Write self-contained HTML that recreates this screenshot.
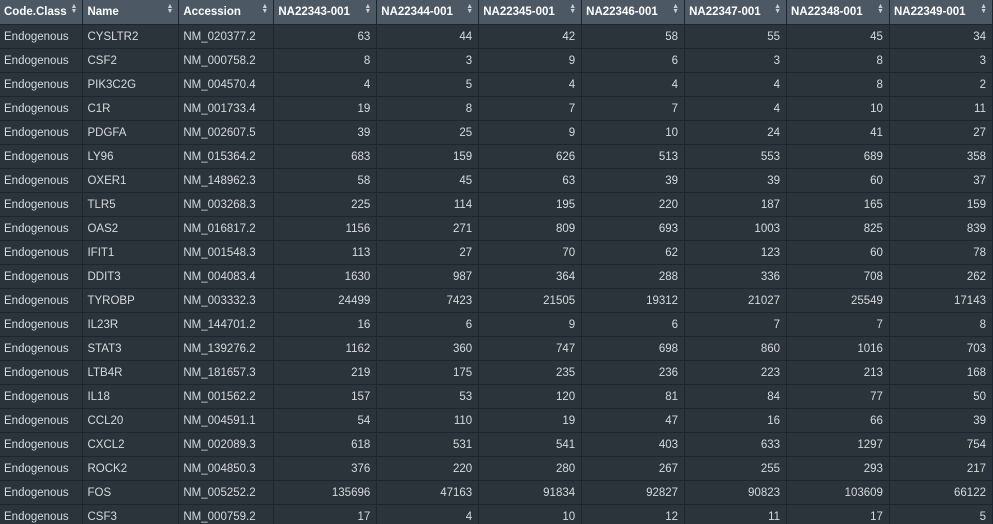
<!DOCTYPE html>
<html><head><meta charset="utf-8"><style>
html,body{margin:0;padding:0;background:#2b343b;width:993px;height:524px;overflow:hidden}
table{border-collapse:collapse;table-layout:fixed;font-family:"Liberation Sans",sans-serif;font-size:11.5px;color:#d6dadd}
th{background:#4c5965;color:#fff;font-weight:bold;text-align:left;height:24px;padding:0 4px;border-right:1px solid #1c2630;border-bottom:1px solid #1c2630;position:relative;white-space:nowrap;overflow:hidden}
th .s{position:absolute;right:5px;top:4px;font-size:7px;line-height:5px;color:#c8ced3}
td{height:23px;padding:0 4px;border-right:1px solid #1c2630;border-bottom:1px solid #1c2630;background:#2b343b;white-space:nowrap}
td.n{text-align:right;padding-right:6px}
</style></head><body>
<table id="t">
<colgroup><col style="width:83px"><col style="width:96px"><col style="width:95px"><col style="width:103px"><col style="width:102px"><col style="width:103px"><col style="width:103px"><col style="width:102px"><col style="width:103px"><col style="width:103px"></colgroup>
<thead><tr id="h"></tr></thead>
<tbody id="b"></tbody>
</table>
<script>
const headers=["Code.Class","Name","Accession","NA22343-001","NA22344-001","NA22345-001","NA22346-001","NA22347-001","NA22348-001","NA22349-001"];
const names=["CYSLTR2","CSF2","PIK3C2G","C1R","PDGFA","LY96","OXER1","TLR5","OAS2","IFIT1","DDIT3","TYROBP","IL23R","STAT3","LTB4R","IL18","CCL20","CXCL2","ROCK2","FOS","CSF3"];
const accessions=["NM_020377.2","NM_000758.2","NM_004570.4","NM_001733.4","NM_002607.5","NM_015364.2","NM_148962.3","NM_003268.3","NM_016817.2","NM_001548.3","NM_004083.4","NM_003332.3","NM_144701.2","NM_139276.2","NM_181657.3","NM_001562.2","NM_004591.1","NM_002089.3","NM_004850.3","NM_005252.2","NM_000759.2"];
const values=[
[63,44,42,58,55,45,34],[8,3,9,6,3,8,3],[4,5,4,4,4,8,2],[19,8,7,7,4,10,11],[39,25,9,10,24,41,27],
[683,159,626,513,553,689,358],[58,45,63,39,39,60,37],[225,114,195,220,187,165,159],[1156,271,809,693,1003,825,839],
[113,27,70,62,123,60,78],[1630,987,364,288,336,708,262],[24499,7423,21505,19312,21027,25549,17143],
[16,6,9,6,7,7,8],[1162,360,747,698,860,1016,703],[219,175,235,236,223,213,168],[157,53,120,81,84,77,50],
[54,110,19,47,16,66,39],[618,531,541,403,633,1297,754],[376,220,280,267,255,293,217],
[135696,47163,91834,92827,90823,103609,66122],[17,4,10,12,11,17,5]];
const h=document.getElementById('h');
headers.forEach(t=>{const th=document.createElement('th');


th.innerHTML=t+'<span class="s">▲<br>▼</span>';h.appendChild(th);});
const b=document.getElementById('b');
names.forEach((n,i)=>{const tr=document.createElement('tr');


const cells=["Endogenous",n,accessions[i]].concat(values[i]);
cells.forEach((c,j)=>{const td=document.createElement('td');


if(j>2)td.className='n';td.textContent=c;tr.appendChild(td);});
b.appendChild(tr);});
</script>
</body></html>
